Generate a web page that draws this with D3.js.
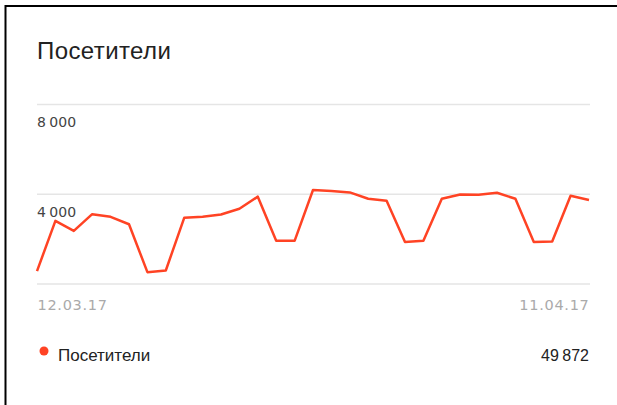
<!DOCTYPE html>
<html><head><meta charset="utf-8">
<script src="https://cdn.jsdelivr.net/npm/d3@7"></script>
<style>html,body{margin:0;padding:0;background:#fff;}svg{display:block;}</style>
</head><body>
<svg id="c" width="617" height="405"></svg>
<script>
const title = "Посетители";
const seriesName = "Посетители";
const totalLabel = "49 872";
const startDate = "2017-03-12";
const visitors = [553, 2790, 2343, 3090, 2970, 2640, 506, 580, 2925, 2980, 3075, 3330, 3870, 1910, 1900,
  4165, 4120, 4060, 3775, 3685, 1850, 1910, 3775, 3970, 3955, 4045, 3775, 1850, 1870, 3910, 3720];
const yTicks = [0, 4000, 8000];

(function(){
const parse = d3.timeParse("%Y-%m-%d");
const d0 = parse(startDate);
const data = visitors.map((v, i) => ({date: d3.timeDay.offset(d0, i), value: v}));

const svg = d3.select("#c");
const pLeft = 37, pRight = 589, pTop = 104, pBottom = 283.5;

// frame
svg.append("line").attr("x1",5.5).attr("x2",5.5).attr("y1",5).attr("y2",405).attr("stroke","#000").attr("stroke-width",2);
svg.append("line").attr("x1",5).attr("x2",617).attr("y1",6).attr("y2",6).attr("stroke","#000").attr("stroke-width",2);

svg.append("text").attr("x",37).attr("y",59).text(title)
  .attr("font-family","Liberation Sans, Arial, sans-serif").attr("font-size",24).attr("letter-spacing","0.4px").attr("fill","#222");

const x = d3.scaleTime().domain(d3.extent(data, d => d.date)).range([pLeft, pRight]);
const y = d3.scaleLinear().domain([0, 8000]).range([pBottom, pTop]);

const fmtNum = v => d3.format(",")(v).replace(/,/g, " ");

const yAxis = d3.axisLeft(y).tickValues(yTicks).tickSize(0).tickFormat(d => d === 0 ? "" : fmtNum(d));
const gy = svg.append("g").call(yAxis);
gy.select(".domain").remove();
gy.selectAll(".tick line").remove();
gy.selectAll(".tick").append("line").attr("x1",pLeft).attr("x2",pRight+1).attr("stroke","#e5e5e5").attr("stroke-width",1.5);
gy.selectAll(".tick text").attr("x",pLeft).attr("dy",null).attr("y",22.5).attr("text-anchor","start")
  .attr("font-family","DejaVu Sans, Verdana, sans-serif").attr("font-size",14).attr("fill","#444").attr("word-spacing","-1px");

const fmtDate = d3.timeFormat("%d.%m.%y");
const xAxis = d3.axisBottom(x).tickValues([data[0].date, data[data.length-1].date]).tickSize(0).tickFormat(fmtDate);
const gx = svg.append("g").attr("transform",`translate(0,${pBottom})`).call(xAxis);
gx.select(".domain").remove();
gx.selectAll(".tick text").attr("dy",null).attr("y",26)
  .attr("text-anchor",(d,i)=> i===0 ? "start" : "end")
  .attr("font-family","DejaVu Sans, Verdana, sans-serif").attr("font-size",14.5).attr("fill","#aaa").attr("letter-spacing","0.7px");

const line = d3.line().x(d => x(d.date)).y(d => y(d.value));
svg.append("path").datum(data).attr("d",line).attr("fill","none").attr("stroke","#ff4324").attr("stroke-width",2.5).attr("stroke-linejoin","round");

// legend
svg.append("circle").attr("cx",44).attr("cy",351).attr("r",4.5).attr("fill","#ff4324");
svg.append("text").attr("x",58).attr("y",361).text(seriesName)
  .attr("font-family","Liberation Sans, Arial, sans-serif").attr("font-size",17).attr("fill","#222");
svg.append("text").attr("x",589).attr("y",361).attr("text-anchor","end").text(totalLabel)
  .attr("font-family","Liberation Sans, Arial, sans-serif").attr("font-size",16).attr("fill","#222").attr("word-spacing","-1px");
})();
</script>
</body></html>
